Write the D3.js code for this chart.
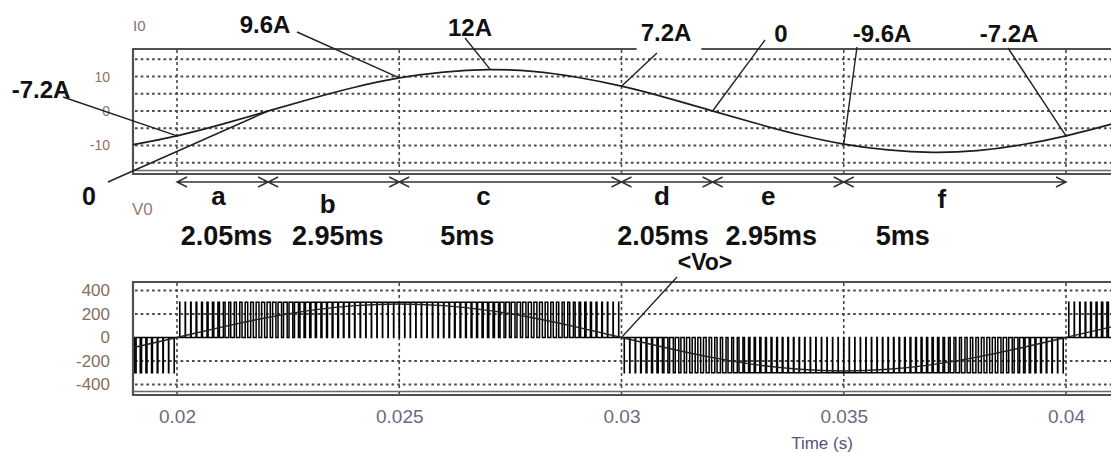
<!DOCTYPE html>
<html><head><meta charset="utf-8">
<script src="https://cdn.jsdelivr.net/npm/d3@7"></script>
<style>
html,body{margin:0;padding:0;background:#fff;}
svg{display:block;font-family:"Liberation Sans",Arial,sans-serif;}
</style></head><body>
<svg id="chart" width="1111" height="452"></svg>
<script>
// ---- Load current i0(t), one sample per millisecond (A) ----
const currentTime = [0.019,0.020,0.021,0.022,0.023,0.024,0.025,0.026,0.027,0.028,0.029,0.030,
                     0.031,0.032,0.033,0.034,0.035,0.036,0.037,0.038,0.039,0.040,0.041,0.042];
const currentAmps = [-9.8,-7.2,-3.9,-0.2,3.5,6.9,9.6,11.3,12.0,11.5,9.8,7.2,
                     3.9,0.2,-3.5,-6.9,-9.6,-11.3,-12.0,-11.5,-9.8,-7.2,-3.9,-0.2];

// ---- Averaged output voltage <Vo>, one sample per millisecond (V) ----
const voTime  = currentTime;
const voVolts = [-88,0,88,168,231,271,285,271,231,168,88,0,
                 -88,-168,-231,-271,-285,-271,-231,-168,-88,0,88,168];

// ---- PWM output voltage: pulse duty per switching period over one half cycle ----
const pwmPeriod = 0.000125;   // s
const dcLink = 300;           // V
const dutyHalf = [0.02,0.06,0.09,0.13,0.17,0.20,0.24,0.28,0.31,0.35,0.38,0.41,0.45,0.48,0.51,0.54,
                  0.57,0.60,0.63,0.66,0.68,0.71,0.73,0.76,0.78,0.80,0.82,0.84,0.85,0.87,0.88,0.90,
                  0.91,0.92,0.93,0.94,0.94,0.95,0.95,0.95,0.95,0.95,0.95,0.94,0.94,0.93,0.92,0.91,
                  0.90,0.88,0.87,0.85,0.84,0.82,0.80,0.78,0.76,0.73,0.71,0.68,0.66,0.63,0.60,0.57,
                  0.54,0.51,0.48,0.45,0.41,0.38,0.35,0.31,0.28,0.24,0.20,0.17,0.13,0.09,0.06,0.02];
const halfStart = [0.01, 0.02, 0.03, 0.04];
const halfSign  = [-1, 1, -1, 1];

// ---- Interval annotations ----
const segBounds   = [0.02, 0.02205, 0.025, 0.03, 0.03205, 0.035, 0.04];
const segLetters  = ["a","b","c","d","e","f"];
const segDuration = ["2.05ms","2.95ms","5ms","2.05ms","2.95ms","5ms"];

// ---- Current value call-outs ----
const noteText = ["-7.2A","0","9.6A","12A","7.2A","0","-9.6A","-7.2A"];
const noteTime = [0.02, 0.02205, 0.025, 0.02705, 0.03, 0.03205, 0.035, 0.04];
const noteAmps = [-7.2, 0, 9.6, 12, 7.2, 0, -9.6, -7.2];

// ---- Axis ticks ----
const timeTicks = [0.02, 0.025, 0.03, 0.035, 0.04];
const currentTicks = [10, 0, -10];
const currentGrid = [15, 10, 5, 0, -5, -10, -15];
const voltTicks = [400, 200, 0, -200, -400];
const voltGrid = [400, 200, -200, -400];

// ---------------- layout ----------------
const plotLeft = 133, plotRight = 1114;
const top1 = 49, bot1 = 174, top2 = 282, bot2 = 395;
const arrowY = 182;
// label placement (pixels)
const noteAt     = [[41,98],[89,205],[265,33],[470,36],[666,41],[781,42],[882,42],[1009,42]];
const noteLeadAt = [[63,97],[108,182],[297,32],[465,38],[657,53],[765,40],[857,47],[1008,48]];
const noteSize   = [24,25,24,24,24,24,24,24];
const letterDx = [-4,-6,-27,-5,-10,-13], letterBase = [205,213,205,205,205,208];
const durDx    = [4,4,-43,-4,-7,-52];

const svg = d3.select("#chart");
const x  = d3.scaleLinear().domain([0.02, 0.04]).range([177, 1066]);
const yI = d3.scaleLinear().domain([-18, 18]).range([173, 49]);
const yV = d3.scaleLinear().domain([-490, 468]).range([395, 282.5]);

const defs = svg.append("defs");
defs.append("clipPath").attr("id","clipTop").append("rect")
  .attr("x",plotLeft).attr("y",top1).attr("width",plotRight-plotLeft).attr("height",bot1-top1);
defs.append("clipPath").attr("id","clipBot").append("rect")
  .attr("x",plotLeft).attr("y",top2).attr("width",plotRight-plotLeft).attr("height",bot2-top2);

function drawGrid(yScale, yVals, yTop, yBot) {
  const g = svg.append("g");
  g.append("g").selectAll("line").data(yVals).join("line")
    .attr("x1",plotLeft+2).attr("x2",plotRight)
    .attr("y1",d=>yScale(d)).attr("y2",d=>yScale(d))
    .attr("stroke","#4a4a4a").attr("stroke-width",2).attr("stroke-dasharray","2.6,3.1");
  g.append("g").selectAll("line").data(timeTicks).join("line")
    .attr("x1",d=>x(d)).attr("x2",d=>x(d))
    .attr("y1",yTop+1).attr("y2",yBot)
    .attr("stroke","#4a4a4a").attr("stroke-width",1.6).attr("stroke-dasharray","3,3");
}
function drawFrame(yTop, yBot) {
  svg.append("path").attr("d",`M${plotRight},${yTop}H${plotLeft}V${yBot}H${plotRight}`)
    .attr("fill","none").attr("stroke","#505050").attr("stroke-width",2.2);
  svg.append("line").attr("x1",plotLeft).attr("x2",plotRight)
    .attr("y1",yBot-3.5).attr("y2",yBot-3.5)
    .attr("stroke","#6a6a6a").attr("stroke-width",1.3);
}
const plainNum = d => String(d);

// ---------------- top panel: current ----------------
drawGrid(yI, currentGrid, top1, bot1);
drawFrame(top1, bot1);

svg.append("path")
  .datum(currentTime.map((t,i)=>[t,currentAmps[i]]))
  .attr("clip-path","url(#clipTop)")
  .attr("fill","none").attr("stroke","#1e1e1e").attr("stroke-width",1.7)
  .attr("d", d3.line().x(d=>x(d[0])).y(d=>yI(d[1])).curve(d3.curveNatural));

const axI = svg.append("g").attr("transform",`translate(${plotLeft},0)`)
  .call(d3.axisLeft(yI).tickValues(currentTicks).tickFormat(plainNum).tickSize(0).tickPadding(23));
axI.select(".domain").remove();
axI.selectAll("text").attr("font-size",14).attr("fill","#93705e")
  .attr("font-family","Liberation Sans, Arial, sans-serif");

svg.append("text").attr("x",133).attr("y",31).attr("font-size",15)
  .attr("fill","#8a6f78").text("I0");

// ---------------- bottom panel: output voltage ----------------
drawGrid(yV, voltGrid, top2, bot2);

const pwmPts = [];
halfStart.forEach((t0,h)=>{
  dutyHalf.forEach((d,k)=>{
    const c = t0 + (k+0.5)*pwmPeriod, w = d*pwmPeriod/2, v = halfSign[h]*dcLink;
    pwmPts.push([c-w,0],[c-w,v],[c+w,v],[c+w,0]);
  });
});
svg.append("path").datum(pwmPts)
  .attr("clip-path","url(#clipBot)")
  .attr("fill","none").attr("stroke","#000").attr("stroke-width",1.5)
  .attr("d", d3.line().x(d=>x(d[0])).y(d=>yV(d[1])));

svg.append("path")
  .datum(voTime.map((t,i)=>[t,voVolts[i]]))
  .attr("clip-path","url(#clipBot)")
  .attr("fill","none").attr("stroke","#222").attr("stroke-width",1.4)
  .attr("d", d3.line().x(d=>x(d[0])).y(d=>yV(d[1])).curve(d3.curveNatural));

drawFrame(top2, bot2);

const axV = svg.append("g").attr("transform",`translate(${plotLeft},0)`)
  .call(d3.axisLeft(yV).tickValues(voltTicks).tickFormat(plainNum).tickSize(0).tickPadding(23));
axV.select(".domain").remove();
axV.selectAll("text").attr("font-size",17).attr("fill","#8a6c5a")
  .attr("font-family","Liberation Sans, Arial, sans-serif");

const axT = svg.append("g").attr("transform",`translate(0,${bot2})`)
  .call(d3.axisBottom(x).tickValues(timeTicks).tickSize(0).tickPadding(15)
        .tickFormat(d3.format(".3~f")));
axT.select(".domain").remove();
axT.selectAll("text").attr("font-size",19).attr("fill","#6c6a80")
  .attr("font-family","Liberation Sans, Arial, sans-serif");

svg.append("text").attr("x",822).attr("y",449).attr("text-anchor","middle")
  .attr("font-size",17).attr("fill","#55537d").text("Time (s)");

svg.append("text").attr("x",132).attr("y",215).attr("font-size",17)
  .attr("fill","#9a7c6c").text("V0");

// ---------------- interval arrows ----------------
const arrows = svg.append("g").attr("stroke","#333").attr("stroke-width",1.5).attr("fill","none");
const aL = 10, aH = 5;
segLetters.forEach((s,i)=>{
  const x0 = x(segBounds[i]), x1 = x(segBounds[i+1]);
  arrows.append("path").attr("d",
    `M${x0},${arrowY}H${x1}` +
    `M${x0+aL},${arrowY-aH}L${x0},${arrowY}L${x0+aL},${arrowY+aH}` +
    `M${x1-aL},${arrowY-aH}L${x1},${arrowY}L${x1-aL},${arrowY+aH}`);
  const mid = x((segBounds[i]+segBounds[i+1])/2);
  svg.append("text").attr("x",mid+letterDx[i]).attr("y",letterBase[i])
    .attr("text-anchor","middle").attr("font-size",26).attr("font-weight","bold")
    .attr("fill","#111").text(s);
  svg.append("text").attr("x",mid+durDx[i]).attr("y",245)
    .attr("text-anchor","middle").attr("font-size",27).attr("font-weight","bold")
    .attr("fill","#111").text(segDuration[i]);
});

// ---------------- current call-outs ----------------
noteText.forEach((txt,i)=>{
  const [lx,ly] = noteLeadAt[i];
  svg.append("line").attr("x1",lx).attr("y1",ly)
    .attr("x2",x(noteTime[i])).attr("y2",yI(noteAmps[i]))
    .attr("stroke","#222").attr("stroke-width",1.4);
});
noteText.forEach((txt,i)=>{
  const t = svg.append("text").attr("x",noteAt[i][0]).attr("y",noteAt[i][1])
    .attr("text-anchor","middle").attr("font-size",noteSize[i]).attr("font-weight","bold")
    .attr("fill","#111").text(txt);
  if (i === 4) {
    const b = t.node().getBBox();
    svg.insert("rect", () => t.node())
      .attr("x",b.x-4).attr("y",b.y).attr("width",b.width+14).attr("height",52-b.y)
      .attr("fill","#fff");
  }
});

// ---------------- <Vo> call-out ----------------
svg.append("line").attr("x1",677).attr("y1",277)
  .attr("x2",x(0.03)).attr("y2",yV(0))
  .attr("stroke","#222").attr("stroke-width",1.3);
svg.append("text").attr("x",705).attr("y",270).attr("text-anchor","middle")
  .attr("font-size",23).attr("font-weight","bold").attr("fill","#111").text("<Vo>");
</script>
</body></html>
